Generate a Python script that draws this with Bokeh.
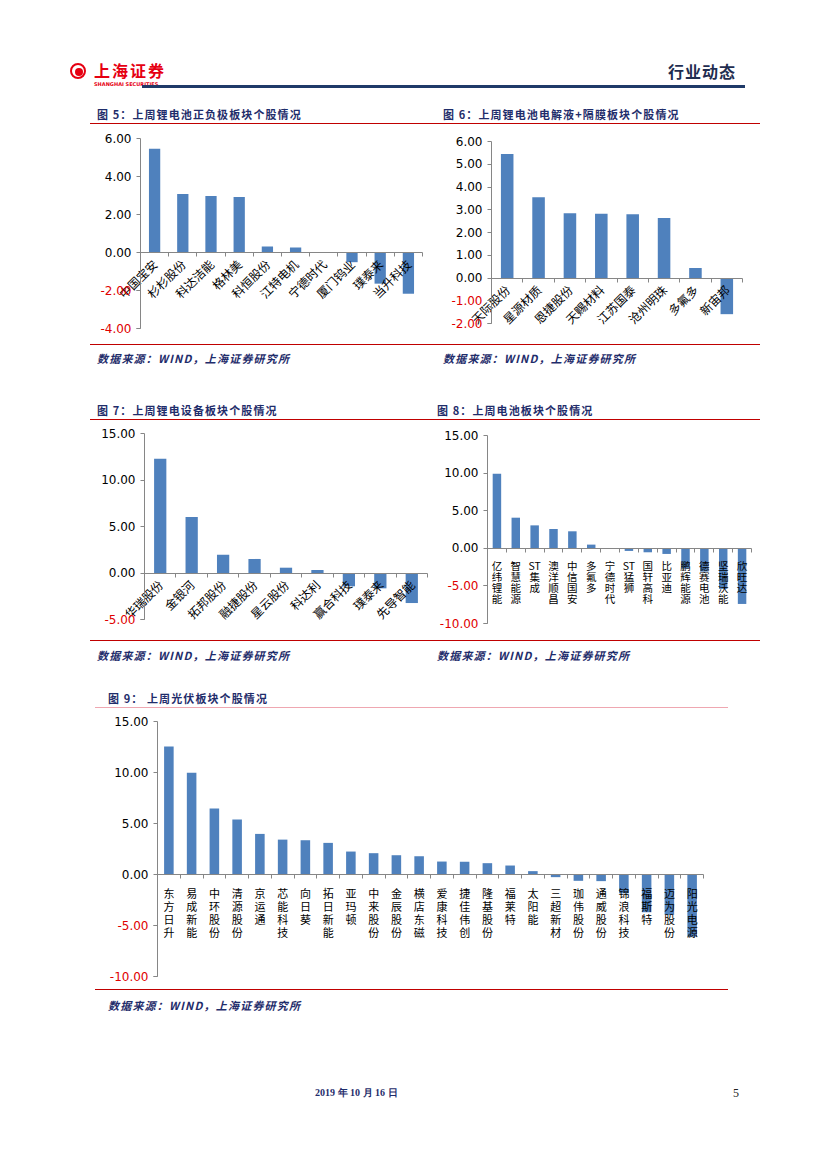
import math
from bokeh.plotting import figure
from bokeh.models import Range1d, FixedTicker, LinearAxis, Div, NumeralTickFormatter, Spacer
from bokeh.layouts import column, row
from bokeh.embed import file_html
from bokeh.resources import INLINE

# ---------------- data ----------------
f5_names = ["中国宝安", "杉杉股份", "科达洁能", "格林美", "科恒股份", "江特电机", "宁德时代", "厦门钨业", "璞泰来", "当升科技"]
f5_vals = [5.46, 3.08, 2.98, 2.92, 0.32, 0.26, -0.03, -0.51, -1.64, -2.17]
f5_ticks = [-4, -2, 0, 2, 4, 6]

f6_names = ["天际股份", "星源材质", "恩捷股份", "天赐材料", "江苏国泰", "沧州明珠", "多氟多", "新宙邦"]
f6_vals = [5.45, 3.55, 2.85, 2.82, 2.80, 2.64, 0.44, -1.59]
f6_ticks = [-2, -1, 0, 1, 2, 3, 4, 5, 6]

f7_names = ["华瑞股份", "金银河", "拓邦股份", "融捷股份", "星云股份", "科达利", "赢合科技", "璞泰来", "先导智能"]
f7_vals = [12.29, 6.02, 1.97, 1.51, 0.57, 0.32, -1.43, -1.65, -3.23]
f7_ticks = [-5, 0, 5, 10, 15]

f8_names = ["亿纬锂能", "智慧能源", "ST集成", "澳洋顺昌", "中信国安", "多氟多", "宁德时代", "ST猛狮",
            "国轩高科", "比亚迪", "鹏辉能源", "德赛电池", "坚瑞沃能", "欣旺达"]
f8_vals = [9.91, 4.07, 3.05, 2.57, 2.26, 0.49, -0.03, -0.35, -0.53, -0.75, -2.7, -3.1, -5.4, -7.4]
f8_ticks = [-10, -5, 0, 5, 10, 15]

f9_names = ["东方日升", "易成新能", "中环股份", "清源股份", "京运通", "芯能科技", "向日葵", "拓日新能",
            "亚玛顿", "中来股份", "金辰股份", "横店东磁", "爱康科技", "捷佳伟创", "隆基股份", "福莱特",
            "太阳能", "三超新材", "珈伟股份", "通威股份", "锦浪科技", "福斯特", "迈为股份", "阳光电源"]
f9_vals = [12.55, 9.98, 6.46, 5.38, 3.98, 3.42, 3.36, 3.10, 2.25, 2.09, 1.89, 1.79, 1.27, 1.25,
           1.11, 0.88, 0.33, -0.26, -0.62, -0.65, -1.85, -3.7, -3.95, -6.1]
f9_ticks = [-10, -5, 0, 5, 10, 15]

titles = ["图 5：上周锂电池正负极板块个股情况", "图 6：上周锂电池电解液+隔膜板块个股情况",
          "图 7：上周锂电设备板块个股情况", "图 8：上周电池板块个股情况", "图 9：  上周光伏板块个股情况"]
source = "数据来源：WIND，上海证券研究所"

# ---------------- styles ----------------
BAR = "#4F81BD"
AXIS = "#868686"
NAVY = "#1F2D6B"
RED = "#C00000"
CJK = "Noto Sans CJK SC"


def stack(name):
    parts, buf = [], ""
    for ch in name:
        if ch.isascii():
            buf += ch
        else:
            if buf:
                parts.append(buf)
                buf = ""
            parts.append(ch)
    if buf:
        parts.append(buf)
    return "\n".join(parts)


def style_y(ax, color):
    ax.major_tick_line_color = AXIS
    ax.major_tick_out = 4
    ax.major_tick_in = 0
    ax.minor_tick_line_color = None
    ax.major_label_standoff = 5
    ax.major_label_text_font = "DejaVu Sans"
    ax.major_label_text_font_size = "12px"
    ax.major_label_text_color = color


def chart(names, vals, ticks, W, H, bl, br, bt, bb, bar_w, stacked, lab_size, line_h=1.0):
    n = len(names)
    ymin, ymax = min(ticks), max(ticks)
    cat = (W - bl - br) / n
    unit = (H - bt - bb) / (ymax - ymin)
    p = figure(width=W, height=H,
               x_range=Range1d(-0.5 - bl / cat, n - 0.5 + br / cat),
               y_range=Range1d(ymin - bb / unit, ymax + bt / unit),
               toolbar_location=None, output_backend="svg", min_border=0,
               x_axis_location=None, y_axis_location=None, outline_line_color=None)
    p.grid.visible = False
    p.vbar(x=list(range(n)), top=vals, bottom=0, width=bar_w, color=BAR, line_color=None)

    yax = LinearAxis(ticker=FixedTicker(ticks=ticks), formatter=NumeralTickFormatter(format="0.00"),
                     fixed_location=-0.5, bounds=(ymin, ymax))
    style_y(yax, "#000000")
    yax.axis_line_color = AXIS
    yax.major_label_overrides = {t: " " for t in ticks if t < 0}
    p.add_layout(yax, "left")

    yneg = LinearAxis(ticker=FixedTicker(ticks=[t for t in ticks if t < 0]),
                      formatter=NumeralTickFormatter(format="0.00"),
                      fixed_location=-0.5, bounds=(ymin, ymax))
    style_y(yneg, "#E00000")
    yneg.axis_line_color = None
    p.add_layout(yneg, "left")

    xax = LinearAxis(ticker=FixedTicker(ticks=list(range(n)), minor_ticks=[i - 0.5 for i in range(n + 1)]),
                     fixed_location=0, bounds=(-0.5, n - 0.5))
    xax.axis_line_color = AXIS
    xax.major_tick_line_color = None
    xax.major_tick_out = 0
    xax.major_tick_in = 0
    xax.minor_tick_line_color = AXIS
    xax.minor_tick_out = 4
    xax.minor_tick_in = 0
    xax.major_label_text_font = CJK
    xax.major_label_text_font_size = lab_size
    xax.major_label_text_color = "#000000"
    if stacked:
        xax.major_label_overrides = {i: stack(nm) for i, nm in enumerate(names)}
        xax.major_label_text_line_height = line_h
        xax.major_label_standoff = 6
    else:
        xax.major_label_overrides = {i: nm for i, nm in enumerate(names)}
        xax.major_label_orientation = math.pi / 4
        xax.major_label_standoff = 5
    p.add_layout(xax, "below")
    return p


def txt(x, y, s, size, color, weight="bold", style="normal", family=CJK, ls=0):
    return (f'<div style="position:absolute;left:{x}px;top:{y}px;transform:translateY(-50%);'
            f'font-family:\'{family}\';font-size:{size}px;font-weight:{weight};font-style:{style};'
            f'color:{color};letter-spacing:{ls}px;white-space:nowrap;line-height:1;">{s}</div>')


def hline(x1, x2, y, color, th=1):
    return (f'<div style="position:absolute;left:{x1}px;top:{y}px;width:{x2 - x1}px;'
            f'height:{th}px;background:{color};"></div>')


def box(w, h, inner):
    return Div(text=f'<div style="position:relative;width:{w}px;height:{h}px;">{inner}</div>',
               width=w, height=h, styles={"margin": "0", "padding": "0"})


def title_div(w, h, tx, ty, t, lx1, lx2, ly, lcol=RED):
    return box(w, h, txt(tx, ty, t, 11, NAVY, ls=1.1) + hline(lx1, lx2, ly, lcol))


def src_div(w, h, tx, ty, lx1, lx2, ly):
    return box(w, h, hline(lx1, lx2, ly, RED) + txt(tx, ty, source, 11, NAVY, style="italic", ls=1.2))


# ---------------- header ----------------
logo = ('<div style="position:absolute;left:62px;top:55px;width:16px;height:16px;border:2px solid #E60012;'
        'border-radius:50%;"></div>'
        '<div style="position:absolute;left:67px;top:60px;width:8px;height:8px;background:#E60012;'
        'border-radius:50%;"></div>')
header = box(811, 92,
             logo
             + txt(86, 62, "上海证券", 16, "#E60012", ls=2)
             + txt(86, 76, "SHANGHAI SECURITIES", 5, "#E60012", family="DejaVu Sans")
             + txt(660, 63, "行业动态", 16, "#1F2D50", ls=1)
             + hline(134, 737, 77, "#1F3A68", 3))

# ---------------- charts ----------------
p5 = chart(f5_names, f5_vals, f5_ticks, 422, 210, 132, 8, 12, 8, 0.4, False, "12px")
p6 = chart(f6_names, f6_vals, f6_ticks, 389, 210, 61, 77, 15, 13, 0.4, False, "12px")
p7 = chart(f7_names, f7_vals, f7_ticks, 422, 210, 136, 3, 11, 13, 0.39, False, "12px")
p8 = chart(f8_names, f8_vals, f8_ticks, 389, 210, 57, 68, 13, 9, 0.45, True, "10.5px", 0.72)
p9 = chart(f9_names, f9_vals, f9_ticks, 811, 275, 149, 116, 11, 9, 0.42, True, "11px", 0.82)

b5 = column(title_div(422, 26, 89, 14, titles[0], 82, 422, 23), p5, src_div(422, 60, 89, 22, 82, 422, 8))
b6 = column(title_div(389, 26, 13, 14, titles[1], 0, 330, 23), p6, src_div(389, 60, 13, 22, 0, 330, 8))
b7 = column(title_div(422, 26, 89, 14, titles[2], 82, 422, 23), p7, src_div(422, 48, 89, 23, 82, 422, 8))
b8 = column(title_div(389, 26, 7, 14, titles[3], 0, 330, 23), p8, src_div(389, 48, 7, 23, 0, 330, 8))
b9 = column(title_div(811, 30, 100, 18, titles[4], 87, 720, 27, "#EFA7B1"), p9,
            src_div(811, 45, 100, 20, 87, 720, 4))

footer = box(811, 100,
             txt(307, 63, "2019 年 10 月 16 日", 10, NAVY, family="Liberation Serif")
             + txt(725, 63, "5", 12, "#222222", weight="normal", family="Liberation Serif"))

page = column(header, row(b5, b6), row(b7, b8), b9, footer)
root = column(Spacer(width=811, height=8), row(Spacer(width=8, height=10), page))

open("out.html", "w").write(file_html(root, INLINE))
